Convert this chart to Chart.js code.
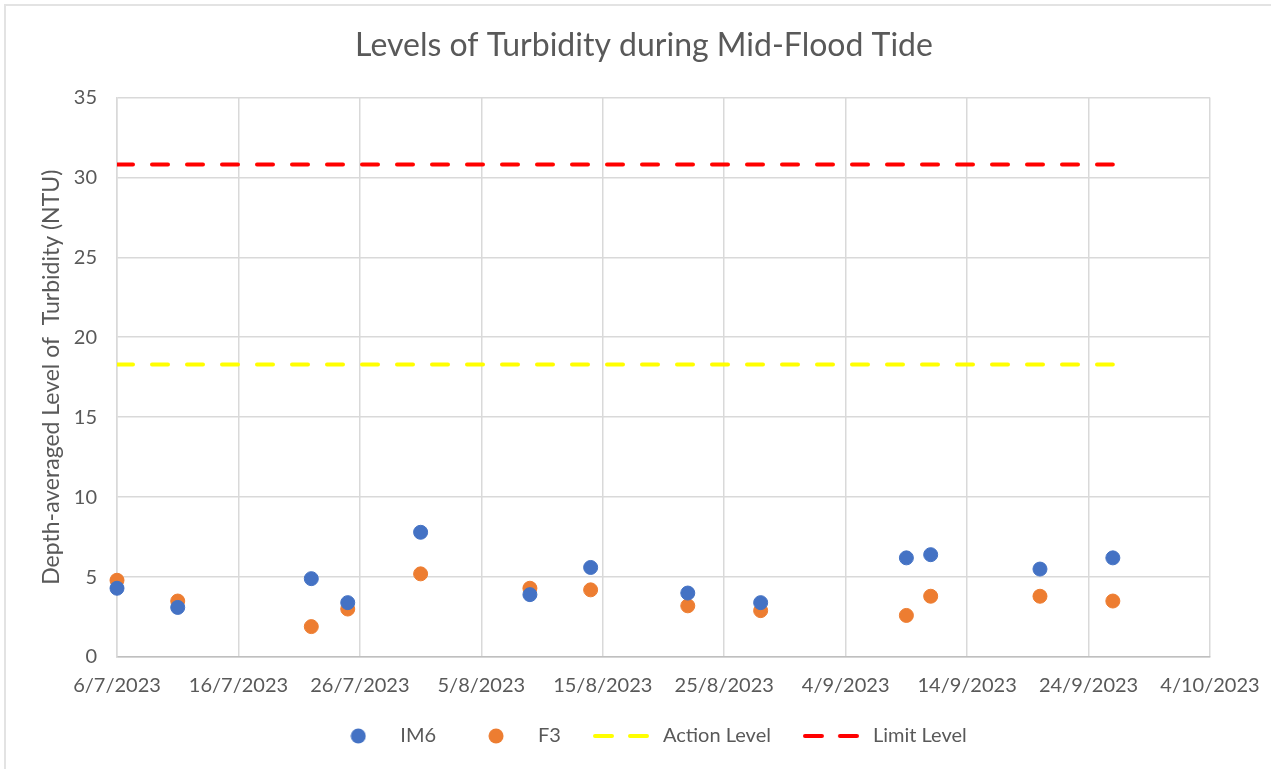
<!DOCTYPE html>
<html>
<head>
<meta charset="utf-8">
<script src="https://cdn.jsdelivr.net/npm/chart.js@4.4.1/dist/chart.umd.min.js"></script>
<style>
    html, body { margin: 0; padding: 0; background: #fff; }
    .chart-box { position: relative; width: 1271px; height: 769px; overflow: hidden; }
    .chart-frame {
        position: absolute;
        left: 4px;
        top: 4px;
        right: 0;
        bottom: 0;
        border-top: 2px solid #e3e3e3;
        border-left: 2px solid #e3e3e3;
    }
    canvas { position: absolute; left: 0; top: 0; display: block; }
</style>
</head>
<body>
<div class="chart-box">
    <div class="chart-frame"></div>
    <canvas id="turbidityChart" width="1271" height="769"></canvas>
</div>
<script>
// sampling dates (d/m/yyyy) and depth-averaged turbidity, NTU
const sampleDates = ['6/7/2023', '11/7/2023', '22/7/2023', '25/7/2023', '31/7/2023', '9/8/2023', '14/8/2023',
    '22/8/2023', '28/8/2023', '9/9/2023', '11/9/2023', '20/9/2023', '26/9/2023'];
const im6Values = [4.3, 3.1, 4.9, 3.4, 7.8, 3.9, 5.6, 4.0, 3.4, 6.2, 6.4, 5.5, 6.2];
const f3Values = [4.8, 3.5, 1.9, 3.0, 5.2, 4.3, 4.2, 3.2, 2.9, 2.6, 3.8, 3.8, 3.5];

const levelDates = ['6/7/2023', '26/9/2023'];
const actionLevel = 18.3;
const limitLevel = 30.8;

const xTickLabels = ['6/7/2023', '16/7/2023', '26/7/2023', '5/8/2023', '15/8/2023', '25/8/2023',
    '4/9/2023', '14/9/2023', '24/9/2023', '4/10/2023'];
const yTickValues = [0, 5, 10, 15, 20, 25, 30, 35];

const FONT = 'Lato, "Open Sans", sans-serif';
const TEXT = '#595959';
const GRID = '#d9d9d9';

const dayZero = Date.UTC(2023, 6, 6);
const toDay = (s) => {
    const [d, m, y] = s.split('/').map(Number);
    return (Date.UTC(y, m - 1, d) - dayZero) / 86400000;
};

const pointsOf = (dates, values) => dates.map((d, i) => ({ x: toDay(d), y: values[i] }));
const flatLine = (value) => levelDates.map((d) => ({ x: toDay(d), y: value }));

// little images for the legend markers
const circleIcon = (color) => {
    const c = document.createElement('canvas');
    c.width = 16;
    c.height = 16;
    const g = c.getContext('2d');
    g.fillStyle = color;
    g.beginPath();
    g.arc(8, 8, 7.5, 0, Math.PI * 2);
    g.fill();
    return c;
};

const dashIcon = (color) => {
    const c = document.createElement('canvas');
    c.width = 56;
    c.height = 8;
    const g = c.getContext('2d');
    g.strokeStyle = color;
    g.lineWidth = 4;
    g.lineCap = 'round';
    g.setLineDash([17, 18]);
    g.beginPath();
    g.moveTo(2, 4);
    g.lineTo(54, 4);
    g.stroke();
    return c;
};

const datasets = [
    {
        label: 'IM6',
        data: pointsOf(sampleDates, im6Values),
        backgroundColor: '#4472c4',
        borderColor: '#4472c4',
        borderWidth: 1,
        pointRadius: 7,
        pointHoverRadius: 7,
        showLine: false,
        clip: false,
    },
    {
        label: 'F3',
        data: pointsOf(sampleDates, f3Values),
        backgroundColor: '#ed7d31',
        borderColor: '#ed7d31',
        borderWidth: 1,
        pointRadius: 7,
        pointHoverRadius: 7,
        showLine: false,
        clip: false,
    },
    {
        label: 'Action Level',
        type: 'line',
        data: flatLine(actionLevel),
        borderColor: '#ffff00',
        borderWidth: 4,
        borderDash: [16, 19],
        borderCapStyle: 'round',
        pointRadius: 0,
        fill: false,
    },
    {
        label: 'Limit Level',
        type: 'line',
        data: flatLine(limitLevel),
        borderColor: '#ff0000',
        borderWidth: 4,
        borderDash: [16, 19],
        borderCapStyle: 'round',
        pointRadius: 0,
        fill: false,
    },
];

const legendIcons = [circleIcon('#4472c4'), circleIcon('#ed7d31'), dashIcon('#ffff00'), dashIcon('#ff0000')];

// nudge title and legend so they sit where the original ones do
const blockShift = {
    id: 'blockShift',
    afterLayout(chart) {
        const t = chart.titleBlock;
        if (t) {
            t.left += 20;
            t.right += 20;
        }
        const l = chart.legend;
        if (l) {
            l.left -= 17;
            l.right -= 17;
        }
    },
};

new Chart(document.getElementById('turbidityChart'), {
    type: 'scatter',
    data: { datasets },
    plugins: [blockShift],
    options: {
        responsive: false,
        devicePixelRatio: 1,
        animation: false,
        layout: { padding: { left: 38, right: 61, top: 0, bottom: 13 } },
        plugins: {
            title: {
                display: true,
                text: 'Levels of Turbidity during Mid-Flood Tide',
                color: TEXT,
                font: { family: FONT, size: 32, weight: 'normal' },
                padding: { top: 26, bottom: 33 },
            },
            legend: {
                position: 'bottom',
                fullSize: false,
                labels: {
                    color: TEXT,
                    font: { family: FONT, size: 20 },
                    usePointStyle: true,
                    pointStyleWidth: 64,
                    padding: 28,
                    generateLabels: (chart) => chart.data.datasets.map((ds, i) => ({
                        text: ds.label,
                        pointStyle: legendIcons[i],
                        fillStyle: ds.borderColor,
                        strokeStyle: ds.borderColor,
                        lineWidth: 0,
                        hidden: false,
                        datasetIndex: i,
                        fontColor: TEXT,
                    })),
                },
            },
            tooltip: { enabled: false },
        },
        scales: {
            x: {
                type: 'linear',
                min: toDay(xTickLabels[0]),
                max: toDay(xTickLabels[xTickLabels.length - 1]),
                afterBuildTicks: (scale) => {
                    scale.ticks = xTickLabels.map((t) => ({ value: toDay(t) }));
                },
                afterFit: (scale) => {
                    scale.height = 41;
                    scale.paddingLeft = 0;
                    scale.paddingRight = 0;
                },
                ticks: {
                    color: TEXT,
                    font: { family: FONT, size: 20 },
                    padding: 17,
                    maxRotation: 0,
                    autoSkip: false,
                    callback: (value, index) => xTickLabels[index],
                },
                grid: { color: GRID, lineWidth: 1.5, drawTicks: false },
                border: { color: '#bfbfbf', width: 1.5 },
            },
            y: {
                min: yTickValues[0],
                max: yTickValues[yTickValues.length - 1],
                afterBuildTicks: (scale) => {
                    scale.ticks = yTickValues.map((v) => ({ value: v }));
                },
                afterFit: (scale) => {
                    scale.width = 79;
                },
                ticks: {
                    color: TEXT,
                    font: { family: FONT, size: 20 },
                    padding: 20,
                },
                grid: { color: GRID, lineWidth: 1.5, drawTicks: false },
                border: { color: GRID, width: 1.5 },
                title: {
                    display: true,
                    text: 'Depth-averaged Level of  Turbidity (NTU)',
                    color: TEXT,
                    font: { family: FONT, size: 23 },
                    padding: 0,
                },
            },
        },
    },
});
</script>
</body>
</html>
